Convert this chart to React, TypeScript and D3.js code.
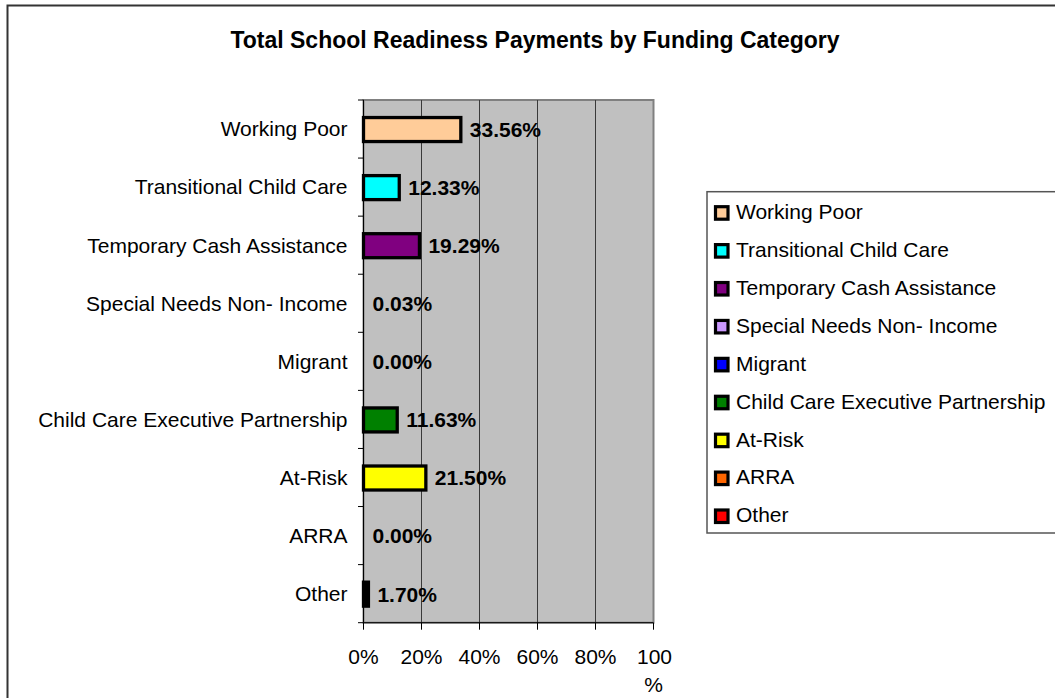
import React from "react";
import * as d3 from "d3";

const title = "Total School Readiness Payments by Funding Category";
const categories = [
  "Working Poor",
  "Transitional Child Care",
  "Temporary Cash Assistance",
  "Special Needs Non- Income",
  "Migrant",
  "Child Care Executive Partnership",
  "At-Risk",
  "ARRA",
  "Other",
];
const values = [33.56, 12.33, 19.29, 0.03, 0.0, 11.63, 21.5, 0.0, 1.7];
const legendColors = [
  "#FFCC99",
  "#00FFFF",
  "#800080",
  "#CC99FF",
  "#0000FF",
  "#008000",
  "#FFFF00",
  "#FF6600",
  "#FF0000",
];
const barColors = [
  "#FFCC99",
  "#00FFFF",
  "#800080",
  "#CC99FF",
  "#0000FF",
  "#008000",
  "#FFFF00",
  "#FF6600",
  "#000000",
];
const xTicks = [0, 20, 40, 60, 80, 100];
const xTickLabels = ["0%", "20%", "40%", "60%", "80%", "100%"];

const W = 1055;
const H = 698;
const FONT = "'Liberation Sans', Arial, sans-serif";
const plot = { left: 363.5, right: 653.5, top: 100, bottom: 622.7 };

export default function App() {
  const x = d3.scaleLinear().domain([0, 100]).range([plot.left, plot.right]);
  const y = d3
    .scaleBand<string>()
    .domain(categories)
    .range([plot.top, plot.bottom])
    .padding(0);
  const bw = y.bandwidth();
  const barH = 24;

  const legend = { left: 707, top: 191.7, bottom: 533 };
  const ly = d3
    .scalePoint<string>()
    .domain(categories)
    .range([211.7, 515]);

  return (
    <svg
      width={W}
      height={H}
      style={{ position: "absolute", left: 0, top: 0, background: "#fff" }}
      fontFamily={FONT}
    >
      {/* chart border */}
      <rect x={7.5} y={5.5} width={1100} height={800} fill="#fff" stroke="#333" strokeWidth={2} />
      <text x={535} y={48} textAnchor="middle" fontSize={23} fontWeight="bold" fill="#000">
        {title}
      </text>

      {/* plot area */}
      <rect
        x={plot.left}
        y={plot.top}
        width={plot.right - plot.left}
        height={plot.bottom - plot.top}
        fill="#C0C0C0"
        stroke="#808080"
        strokeWidth={2}
      />
      {xTicks.slice(1, -1).map((t) => (
        <line key={t} x1={x(t)} x2={x(t)} y1={plot.top} y2={plot.bottom} stroke="#3a3a3a" strokeWidth={1} />
      ))}

      {/* bars */}
      {categories.map((c, i) => {
        const w = x(values[i]) - x(0);
        const cy = (y(c) as number) + bw / 2 + 0.5;
        return (
          <g key={c}>
            {w >= 1 && (
              <rect
                x={x(0)}
                y={cy - barH / 2}
                width={w}
                height={barH}
                fill={barColors[i]}
                stroke="#000"
                strokeWidth={3.3}
              />
            )}
            <text
              x={x(values[i]) + 9}
              y={cy}
              dy="0.35em"
              fontSize={21}
              fontWeight="bold"
              fill="#000"
            >
              {values[i].toFixed(2) + "%"}
            </text>
          </g>
        );
      })}

      {/* left axis */}
      <line x1={plot.left} x2={plot.left} y1={plot.top} y2={plot.bottom} stroke="#000" strokeWidth={1} />
      {[...categories.map((c) => y(c) as number), plot.bottom].map((v, i) => (
        <line key={i} x1={plot.left - 5.5} x2={plot.left} y1={v} y2={v} stroke="#000" strokeWidth={1} />
      ))}
      {categories.map((c) => (
        <text
          key={c}
          x={plot.left - 16}
          y={(y(c) as number) + bw / 2}
          dy="0.35em"
          textAnchor="end"
          fontSize={21}
          fill="#000"
        >
          {c}
        </text>
      ))}

      {/* bottom axis */}
      <line x1={plot.left} x2={plot.right} y1={plot.bottom} y2={plot.bottom} stroke="#000" strokeWidth={1} />
      {xTicks.map((t, i) => {
        const lab = xTickLabels[i];
        const wrap = lab.length > 3;
        return (
          <g key={t}>
            <line x1={x(t)} x2={x(t)} y1={plot.bottom} y2={plot.bottom + 7} stroke="#000" strokeWidth={1} />
            {wrap ? (
              <text x={x(t)} y={664} textAnchor="middle" fontSize={21} fill="#000">
                <tspan x={x(t) + 1}>{lab.slice(0, -1)}</tspan>
                <tspan x={x(t)} dy={28}>
                  %
                </tspan>
              </text>
            ) : (
              <text x={x(t)} y={664} textAnchor="middle" fontSize={21} fill="#000">
                {lab}
              </text>
            )}
          </g>
        );
      })}

      {/* legend */}
      <rect
        x={legend.left}
        y={legend.top}
        width={500}
        height={legend.bottom - legend.top}
        fill="#fff"
        stroke="#555"
        strokeWidth={1.5}
      />
      {categories.map((c, i) => {
        const cy = ly(c) as number;
        return (
          <g key={c}>
            <rect x={715.5} y={cy - 5} width={12.5} height={12.5} fill={legendColors[i]} stroke="#000" strokeWidth={3.2} />
            <text x={736} y={cy} dy="0.35em" fontSize={21} fill="#000">
              {c}
            </text>
          </g>
        );
      })}
    </svg>
  );
}
